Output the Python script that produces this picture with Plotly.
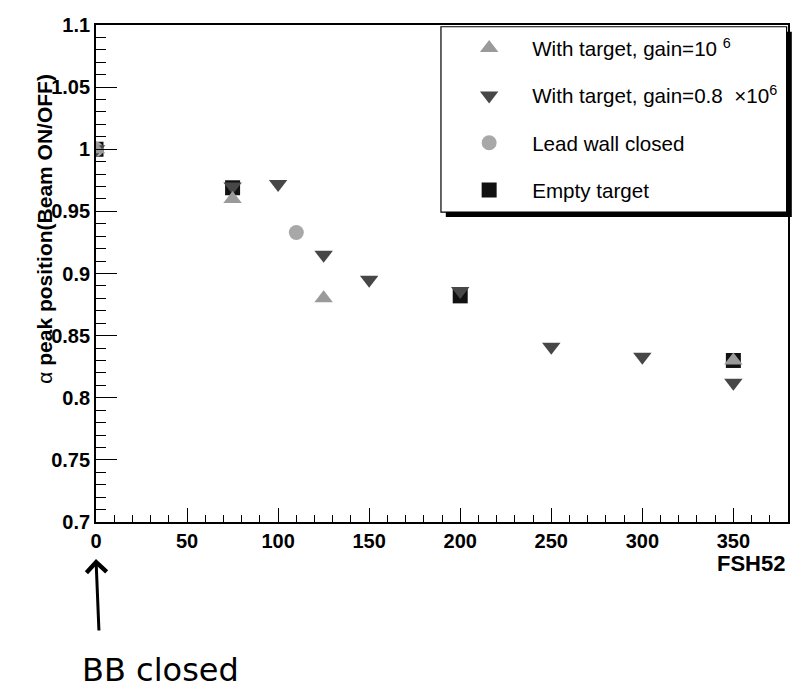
import plotly.graph_objects as go

# FSH52 settings and normalised alpha peak positions (Beam ON / Beam OFF)
x_gain_1e6 = [0, 75, 125, 350]
y_gain_1e6 = [1.0, 0.960, 0.880, 0.830]

x_gain_08e6 = [0, 75, 100, 125, 150, 200, 250, 300, 350]
y_gain_08e6 = [1.0, 0.970, 0.972, 0.915, 0.895, 0.886, 0.841, 0.833, 0.812]

x_lead_wall = [0, 110]
y_lead_wall = [1.0, 0.933]

x_empty = [0, 75, 200, 350]
y_empty = [1.0, 0.969, 0.882, 0.830]

FONT = "Liberation Sans"

fig = go.Figure()

# square markers go underneath, triangles are drawn on top
fig.add_trace(go.Scatter(
    x=x_empty, y=y_empty, mode="markers", name="Empty target",
    legendgroup="d", legendrank=4,
    marker=dict(symbol="square", size=15, color="#111111",
                line=dict(width=0))))
fig.add_trace(go.Scatter(
    x=x_lead_wall, y=y_lead_wall, mode="markers", name="Lead wall closed",
    legendgroup="c", legendrank=3,
    marker=dict(symbol="circle", size=15, color="#a8a8a8",
                line=dict(width=0))))
fig.add_trace(go.Scatter(
    x=x_gain_08e6, y=y_gain_08e6, mode="markers",
    name="With target, gain=0.8  \u00d710<sup>6</sup>",
    legendgroup="b", legendrank=2,
    marker=dict(symbol="triangle-down", size=16, color="#474747",
                line=dict(width=0))))
fig.add_trace(go.Scatter(
    x=x_gain_1e6, y=y_gain_1e6, mode="markers",
    name="With target, gain=10 <sup>6</sup>",
    legendgroup="a", legendrank=1,
    marker=dict(symbol="triangle-up", size=16, color="#9a9a9a",
                line=dict(width=0))))

# legend frame with drop shadow
fig.add_shape(type="rect", xref="paper", yref="paper",
              x0=0.5055, x1=1.0055, y0=0.6135, y1=0.9865,
              fillcolor="black", line=dict(width=0), layer="below")
fig.add_shape(type="rect", xref="paper", yref="paper",
              x0=0.4985, x1=0.998, y0=0.6235, y1=0.9965,
              fillcolor="white", line=dict(color="black", width=1.2),
              layer="below")

# y-axis title
fig.add_annotation(
    text="\u03b1 <b>peak position(Beam ON/OFF)</b>",
    xref="paper", yref="paper", x=-0.0755, y=0.5895,
    xanchor="center", yanchor="middle", textangle=-90,
    showarrow=False, font=dict(family=FONT, size=21, color="black"))

# x-axis title
fig.add_annotation(
    text="<b>FSH52</b>", xref="paper", yref="paper",
    x=0.9985, y=-0.0825, xanchor="right", yanchor="middle",
    showarrow=False, font=dict(family=FONT, size=22, color="black"))

# note under the axis
fig.add_annotation(
    x=0, y=-0.0745, xref="x", yref="paper",
    ax=3, ay=73, axref="pixel", ayref="pixel",
    text="", showarrow=True, arrowhead=4, arrowsize=1.3,
    arrowwidth=3, arrowcolor="black")
fig.add_annotation(
    text="BB closed", xref="x", yref="paper", x=35.5, y=-0.2978,
    xanchor="center", yanchor="middle", showarrow=False,
    font=dict(family="DejaVu Sans", size=32, color="black"))

axis_common = dict(
    showgrid=False, zeroline=False, showline=True, linecolor="black",
    linewidth=1.8, mirror=True, ticks="inside",
    tickwidth=1.3, tickcolor="black",
    tickfont=dict(family=FONT, size=20, color="black", weight="bold"),
)

fig.update_xaxes(range=[0, 380], tick0=0, dtick=50, ticklen=14,
                 minor=dict(ticks="inside", dtick=10, ticklen=7,
                            tickwidth=1.3, tickcolor="black"),
                 **axis_common)
fig.update_yaxes(range=[0.7, 1.1], ticklen=21,
                 minor=dict(ticks="inside", dtick=0.01, ticklen=10,
                            tickwidth=1.3, tickcolor="black"),
                 tickvals=[0.7, 0.75, 0.8, 0.85, 0.9, 0.95, 1.0, 1.05, 1.1],
                 ticktext=["0.7", "0.75", "0.8", "0.85", "0.9", "0.95", "1",
                           "1.05", "1.1"],
                 **axis_common)

fig.update_layout(
    width=810, height=696,
    margin=dict(l=96, r=22, t=25, b=174),
    paper_bgcolor="white", plot_bgcolor="white",
    showlegend=True,
    legend=dict(x=0.506, y=0.9935, xanchor="left", yanchor="top",
                bgcolor="rgba(0,0,0,0)", borderwidth=0,
                tracegroupgap=17.5, itemwidth=76,
                font=dict(family=FONT, size=20.6, color="black")),
)

fig.write_html("out.html")
